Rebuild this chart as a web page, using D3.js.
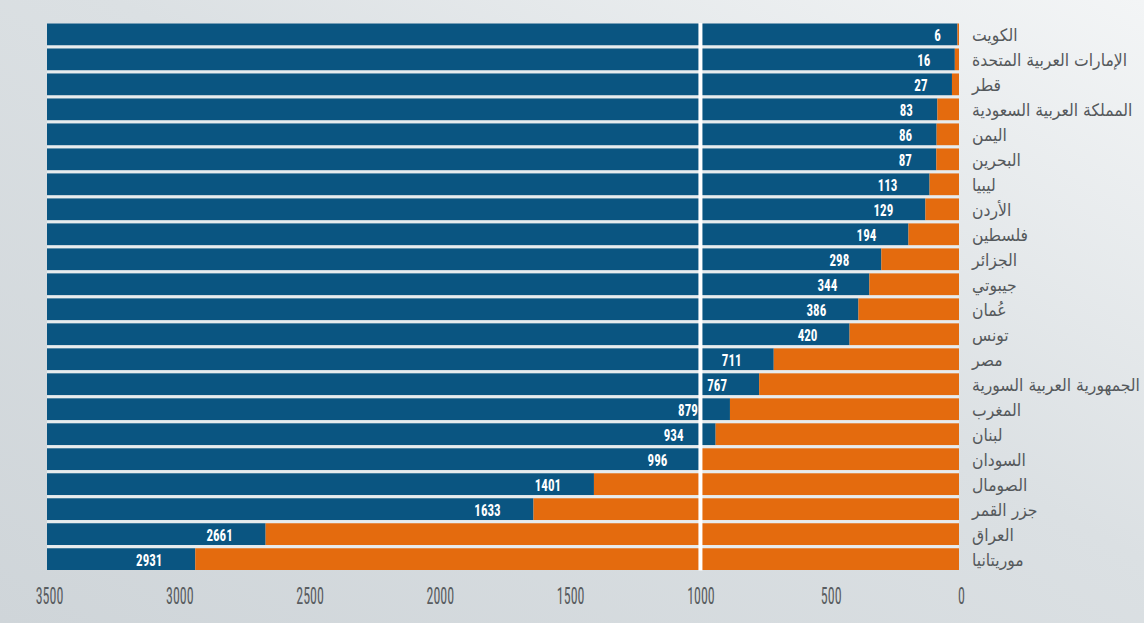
<!DOCTYPE html>
<html lang="ar">
<head>
<meta charset="utf-8">
<script src="https://cdn.jsdelivr.net/npm/d3@7"></script>
<style>
  html, body { margin: 0; padding: 0; background: #e3e7ea; }
  svg { display: block; }
</style>
</head>
<body>
<svg id="chart" width="1144" height="623"></svg>
<script>
// Countries, top to bottom
const countries = [
  "الكويت", "الإمارات العربية المتحدة", "قطر", "المملكة العربية السعودية",
  "اليمن", "البحرين", "ليبيا", "الأردن", "فلسطين", "الجزائر", "جيبوتي",
  "عُمان", "تونس", "مصر", "الجمهورية العربية السورية", "المغرب", "لبنان",
  "السودان", "الصومال", "جزر القمر", "العراق", "موريتانيا"
];
// Value per country (same order)
const values = [
  6, 16, 27, 83, 86, 87, 113, 129, 194, 298, 344,
  386, 420, 711, 767, 879, 934, 996, 1401, 1633, 2661, 2931
];
// Axis
const axisMax = 3500;
const tickValues = [0, 500, 1000, 1500, 2000, 2500, 3000, 3500];
const dividerValue = 1000;

const rows = countries.map((c, i) => ({ country: c, value: values[i] }));

const W = 1144, H = 623;
const svg = d3.select("#chart");

// Background wash
const defs = svg.append("defs");
const bg = defs.append("linearGradient").attr("id", "bg")
  .attr("x1", 0).attr("y1", 1).attr("x2", 1).attr("y2", 0);
bg.append("stop").attr("offset", 0).attr("stop-color", "#cfd5d9");
bg.append("stop").attr("offset", 0.55).attr("stop-color", "#dbe0e3");
bg.append("stop").attr("offset", 1).attr("stop-color", "#f3f5f6");
svg.append("rect").attr("width", W).attr("height", H).attr("fill", "url(#bg)");

// Scales: values grow to the left
const x = d3.scaleLinear().domain([0, axisMax]).range([959, 47]);
const y = d3.scaleBand().domain(countries).range([23.5, 570]).paddingInner(0.13).paddingOuter(0);

const BLUE = "#0a5581", ORANGE = "#e46b0e";

// Light strip behind the bars (shows through the row gaps)
svg.append("rect")
  .attr("x", x(axisMax)).attr("y", y.range()[0])
  .attr("width", x(0) - x(axisMax)).attr("height", y.range()[1] - y.range()[0])
  .attr("fill", "#e7ecee");

const g = svg.append("g");
const row = g.selectAll("g.row").data(rows).join("g").attr("class", "row")
  .attr("transform", d => `translate(0,${y(d.country)})`);

// Remainder up to the axis maximum (blue)
row.append("rect")
  .attr("x", x(axisMax)).attr("y", 0)
  .attr("width", d => x(d.value) - x(axisMax))
  .attr("height", y.bandwidth())
  .attr("fill", BLUE);

// Value (orange)
row.append("rect")
  .attr("x", d => x(d.value)).attr("y", 0)
  .attr("width", d => x(0) - x(d.value))
  .attr("height", y.bandwidth())
  .attr("fill", ORANGE);

// White divider at 1000
svg.append("rect")
  .attr("x", x(dividerValue)).attr("y", y.range()[0] - 0.5)
  .attr("width", 4).attr("height", y.range()[1] - y.range()[0] + 1)
  .attr("fill", "#ffffff");

// Condensed numerals: squeeze text horizontally to a target width per character
function condense(sel, perChar) {
  sel.each(function () {
    const t = d3.select(this);
    const len = this.getComputedTextLength();
    const target = perChar * this.textContent.length;
    const sx = len > 0 ? target / len : 1;
    const tx = +t.attr("data-x"), ty = +t.attr("data-y");
    t.attr("x", 0).attr("y", 0)
     .attr("transform", `translate(${tx},${ty}) scale(${sx},1)`);
  });
}

// Value labels inside the blue bars
const vl = row.append("text")
  .attr("data-x", d => x(d.value) - Math.min(9 + 11 * String(d.value).length, 46))
  .attr("data-y", y.bandwidth() / 2 + 6.5)
  .attr("text-anchor", "middle")
  .attr("font-family", "'Roboto Condensed', 'Liberation Sans Narrow', 'DejaVu Sans Condensed', Roboto, sans-serif")
  .attr("font-weight", "bold")
  .attr("font-size", 17)
  .attr("fill", "#ffffff")
  .text(d => d.value);
condense(vl, 6.6);

// Country labels, slightly narrowed so the longest name fits the margin
const cl = row.append("text")
  .attr("dominant-baseline", "central")
  .attr("text-anchor", "start")
  .attr("font-family", "'DejaVu Sans', 'Noto Sans', sans-serif")
  .attr("font-size", 17)
  .attr("fill", "#55595c")
  .text(d => d.country);
let longest = 0;
cl.each(function () { longest = Math.max(longest, this.getComputedTextLength()); });
const labelSx = Math.min(1, 168 / longest);
cl.attr("transform", `translate(972,${y.bandwidth() / 2 + 1}) scale(${labelSx},1)`);

// Bottom axis labels
const axisG = svg.append("g").attr("transform", "translate(0,604)");
const axis = d3.axisBottom(x).tickValues(tickValues).tickSize(0).tickPadding(0)
  .tickFormat(d3.format("d"));
axisG.call(axis);
axisG.select(".domain").remove();
const tl = axisG.selectAll(".tick text")
  .attr("data-x", 2).attr("data-y", 0)
  .attr("dy", null)
  .attr("font-family", "'Roboto Condensed', 'Liberation Sans Narrow', 'DejaVu Sans Condensed', Roboto, sans-serif")
  .attr("font-size", 23)
  .attr("fill", "#585c60");
condense(tl, 6.9);
</script>
</body>
</html>
